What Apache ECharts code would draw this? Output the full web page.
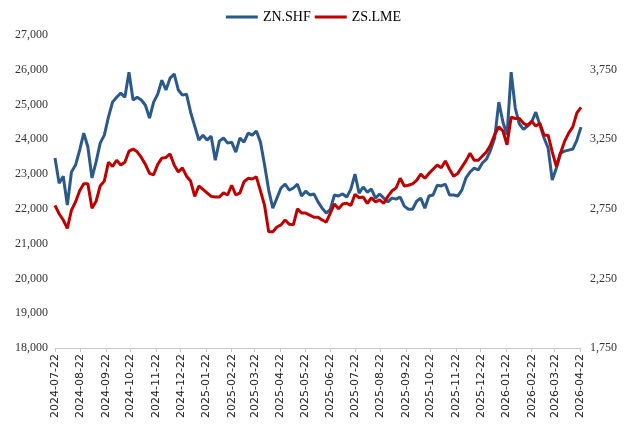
<!DOCTYPE html>
<html>
<head>
<meta charset="utf-8">
<script src="https://cdn.jsdelivr.net/npm/echarts@6/dist/echarts.min.js"></script>
<style>
  html, body { margin: 0; padding: 0; background: #fff; }
  #chart { width: 627px; height: 433px; }
</style>
</head>
<body>
<div id="chart"></div>
<script>
// sample dates (roughly every 5 days)
var sampleDates = [
  '2024-07-22','2024-07-27','2024-08-01','2024-08-06','2024-08-11','2024-08-16','2024-08-21','2024-08-26','2024-08-31','2024-09-05',
  '2024-09-10','2024-09-15','2024-09-20','2024-09-25','2024-09-30','2024-10-05','2024-10-10','2024-10-15','2024-10-20','2024-10-25',
  '2024-10-30','2024-11-04','2024-11-09','2024-11-14','2024-11-19','2024-11-24','2024-11-29','2024-12-04','2024-12-09','2024-12-14',
  '2024-12-19','2024-12-24','2024-12-29','2025-01-03','2025-01-08','2025-01-13','2025-01-18','2025-01-23','2025-01-28','2025-02-02',
  '2025-02-07','2025-02-12','2025-02-17','2025-02-22','2025-02-27','2025-03-04','2025-03-09','2025-03-14','2025-03-19','2025-03-24',
  '2025-03-29','2025-04-03','2025-04-08','2025-04-13','2025-04-18','2025-04-23','2025-04-28','2025-05-03','2025-05-08','2025-05-13',
  '2025-05-18','2025-05-23','2025-05-28','2025-06-02','2025-06-07','2025-06-12','2025-06-17','2025-06-22','2025-06-27','2025-07-02',
  '2025-07-07','2025-07-12','2025-07-17','2025-07-22','2025-07-27','2025-08-01','2025-08-06','2025-08-11','2025-08-16','2025-08-21',
  '2025-08-26','2025-08-31','2025-09-05','2025-09-10','2025-09-15','2025-09-20','2025-09-25','2025-09-30','2025-10-05','2025-10-10',
  '2025-10-15','2025-10-20','2025-10-25','2025-10-30','2025-11-04','2025-11-09','2025-11-14','2025-11-19','2025-11-24','2025-11-29',
  '2025-12-04','2025-12-09','2025-12-14','2025-12-19','2025-12-24','2025-12-29','2026-01-03','2026-01-08','2026-01-13','2026-01-18',
  '2026-01-23','2026-01-28','2026-02-02','2026-02-07','2026-02-12','2026-02-17','2026-02-22','2026-02-27','2026-03-04','2026-03-09',
  '2026-03-14','2026-03-19','2026-03-24','2026-03-29','2026-04-03','2026-04-08','2026-04-13','2026-04-18','2026-04-23'
];

// ZN.SHF (left axis)
var shfValues = [
  23460,22740,22940,22110,23060,23260,23690,24180,23780,22890,
  23350,23890,24120,24640,25070,25210,25330,25210,25930,25130,
  25210,25130,24980,24610,25070,25300,25700,25420,25760,25880,
  25420,25270,25300,24780,24380,23980,24120,23980,24090,23400,
  23950,24040,23890,23920,23630,24040,23920,24180,24120,24240,
  23920,23260,22540,22020,22310,22600,22710,22540,22600,22710,
  22370,22510,22400,22430,22200,22020,21880,21990,22400,22370,
  22430,22340,22570,23000,22450,22630,22480,22570,22310,22430,
  22310,22200,22310,22280,22340,22080,21990,21990,22220,22310,
  22020,22370,22400,22680,22660,22710,22400,22400,22370,22540,
  22890,23060,23170,23120,23320,23430,23690,24040,25070,24500,
  24120,25930,24900,24440,24290,24380,24500,24780,24410,24040,
  23750,22830,23170,23600,23660,23690,23720,23980,24350
];

// ZS.LME (right axis)
var lmeValues = [
  2775,2715,2670,2610,2740,2800,2880,2930,2930,2755,
  2805,2915,2950,3085,3055,3100,3065,3085,3165,3180,
  3160,3120,3070,3005,2995,3070,3115,3120,3145,3065,
  3015,3045,2985,2950,2840,2915,2890,2865,2840,2835,
  2835,2865,2850,2920,2850,2865,2945,2970,2965,2980,
  2880,2775,2585,2585,2620,2635,2670,2640,2635,2750,
  2720,2720,2705,2690,2690,2670,2655,2720,2785,2750,
  2785,2790,2775,2855,2830,2835,2790,2830,2800,2815,
  2790,2840,2880,2900,2970,2915,2920,2930,2955,3000,
  2970,3005,3035,3065,3045,3095,3035,2985,3005,3050,
  3095,3150,3100,3100,3130,3160,3210,3285,3340,3310,
  3210,3410,3400,3400,3365,3350,3380,3345,3365,3280,
  3280,3160,3055,3150,3235,3295,3340,3440,3480
];

var leftTicks = { min: 18000, max: 27000, step: 1000 };
var rightTicks = [1750, 2250, 2750, 3250, 3750];

// calendar days for the x axis
var days = [];
var d = new Date(Date.UTC(2024, 6, 22));
var end = new Date(Date.UTC(2026, 3, 23));
while (d <= end) {
  days.push(d.toISOString().slice(0, 10));
  d.setUTCDate(d.getUTCDate() + 1);
}
var dayIndex = {};
days.forEach(function (s, i) { dayIndex[s] = i; });

function pairs(vals) {
  return sampleDates.map(function (s, i) { return [dayIndex[s], vals[i]]; });
}
function isLabelDay(idx) {
  return days[idx].slice(8) === '22';
}
function fmt(v) {
  return String(v).replace(/\B(?=(\d{3})+(?!\d))/g, ',');
}

var chart = echarts.init(document.getElementById('chart'));
var option = {
  animation: false,
  backgroundColor: '#fff',
  legend: {
    top: 5,
    left: 'center',
    itemWidth: 32,
    itemHeight: 3,
    itemGap: 4,
    icon: 'rect',
    textStyle: { fontFamily: 'Liberation Serif', fontSize: 14, color: '#000' },
    data: ['ZN.SHF', 'ZS.LME']
  },
  grid: { left: 55, right: 46, top: 35, bottom: 85 },
  xAxis: {
    type: 'category',
    data: days,
    boundaryGap: false,
    axisLine: { lineStyle: { color: '#c8c8c8' } },
    axisTick: {
      interval: function (i) { return isLabelDay(i); },
      length: 4,
      lineStyle: { color: '#c8c8c8' }
    },
    axisLabel: {
      interval: function (i) { return isLabelDay(i); },
      rotate: 90,
      margin: 6,
      fontFamily: 'DejaVu Sans',
      fontSize: 11,
      color: '#222'
    },
    splitLine: { show: false }
  },
  yAxis: [
    {
      type: 'value',
      min: leftTicks.min,
      max: leftTicks.max,
      interval: leftTicks.step,
      axisLine: { show: false },
      axisTick: { show: false },
      splitLine: { show: false },
      axisLabel: {
        margin: 7,
        fontFamily: 'Liberation Serif',
        fontSize: 12,
        color: '#333',
        formatter: fmt
      }
    },
    {
      type: 'value',
      min: 1750,
      max: 4000,
      interval: 250,
      axisLine: { show: false },
      axisTick: { show: false },
      splitLine: { show: false },
      axisLabel: {
        margin: 9,
        fontFamily: 'Liberation Serif',
        fontSize: 12,
        color: '#333',
        formatter: function (v) {
          return rightTicks.indexOf(v) >= 0 ? fmt(v) : '';
        }
      }
    }
  ],
  series: [
    {
      name: 'ZN.SHF',
      type: 'line',
      yAxisIndex: 0,
      showSymbol: false,
      color: '#2b5a8a',
      lineStyle: { width: 3, color: '#2b5a8a' },
      data: pairs(shfValues)
    },
    {
      name: 'ZS.LME',
      type: 'line',
      yAxisIndex: 1,
      showSymbol: false,
      color: '#c00000',
      lineStyle: { width: 3, color: '#c00000' },
      data: pairs(lmeValues)
    }
  ]
};
chart.setOption(option);
</script>
</body>
</html>
